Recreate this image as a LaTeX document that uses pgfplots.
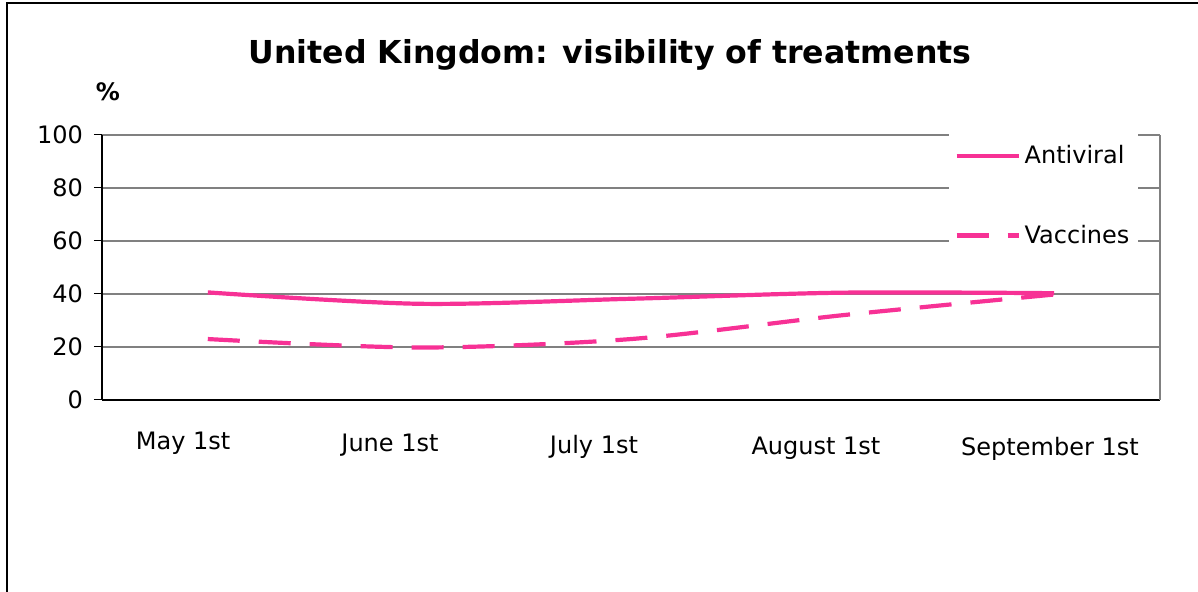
\documentclass[border=0pt]{standalone}
\usepackage{pgfplots}
\pgfplotsset{compat=1.18}
\usepackage{fontspec}
\setmainfont{DejaVu Sans}
\definecolor{pinkline}{RGB}{247,49,149}
\definecolor{gridgray}{RGB}{128,128,128}
\begin{document}
\begin{tikzpicture}
\begin{axis}[
  scale only axis,
  width=529pt, height=132.5pt,
  xmin=-0.5, xmax=4.5,
  ymin=0, ymax=100,
  ytick={0,20,40,60,80,100},
  xtick={-0.117,0.861,1.825,2.874,3.98},
  xticklabels={May 1st,\raisebox{-1pt}{June 1st},\raisebox{-2pt}{July 1st},\raisebox{-2.5pt}{August 1st},\raisebox{-3pt}{September 1st}},
  minor xtick={-0.5,0.5,1.5,2.5,3.5,4.5},
  x axis line style={draw=none},
  axis x line*=bottom,
  axis y line*=left,
  axis line style={black, line width=0.6pt},
  tick align=outside,
  major tick length=4pt,
  minor tick length=5pt,
  xtick style={draw=none},
  minor x tick style={black, line width=0.5pt},
  ytick style={black, line width=0.5pt},
  ymajorgrids,
  major grid style={gridgray, line width=0.7pt},
  /pgf/number format/assume math mode=true,
  tick label style={font=\fontsize{12}{14}\selectfont},
  yticklabel style={xshift=-2pt},
  xticklabel style={anchor=base, yshift=-21pt},
  legend style={at={(0.8006,0.77)}, anchor=west, draw=none, fill=white,
    font=\fontsize{12}{14}\selectfont, row sep=25pt, inner xsep=2.5pt, inner ysep=6pt,
    /tikz/every even column/.append style={column sep=2pt}},
  legend cell align=left,
  legend image code/.code={\draw[#1] (0pt,0pt) -- (31pt,0pt);},
  clip=false,
]
\addplot[pinkline, line width=2.1pt, smooth, tension=0.5] coordinates {
 (0,40.6) (1,36.3) (2,38.2) (3,40.5) (4,40.3)};
\addlegendentry{Antiviral}
\addplot[pinkline, line width=2.1pt, smooth, tension=0.5, dash pattern=on 16pt off 9.5pt] coordinates {
 (0,23.0) (1,19.8) (2,23.0) (3,32.0) (4,39.8)};
\addlegendentry{Vaccines}
\draw[black, line width=0.6pt] (rel axis cs:0,0) -- (rel axis cs:1,0);
\draw[gridgray, line width=0.8pt] (rel axis cs:1,0) -- (rel axis cs:1,1);
\end{axis}
\path[use as bounding box] (-51pt,-96pt) rectangle (548pt,200pt);
\draw[black, line width=1pt] (-47.5pt,-97pt) -- (-47.5pt,198.5pt) -- (549pt,198.5pt);
\node[font=\bfseries\fontsize{15.8}{19}\selectfont] at (254pt,172.5pt) {United Kingdom: visibility of treatments};
\node[font=\bfseries\fontsize{12}{14}\selectfont] at (3pt,154pt) {\%};
\end{tikzpicture}
\end{document}
